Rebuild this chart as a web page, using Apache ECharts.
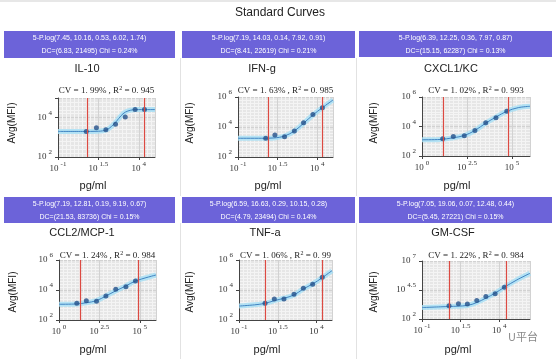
<!DOCTYPE html>
<html><head><meta charset="utf-8">
<script src="https://cdn.jsdelivr.net/npm/echarts@6/dist/echarts.min.js"></script>
<style>html,body{margin:0;padding:0;background:#fff}#c{width:556px;height:359px}</style>
</head><body><div id="c"></div>
<script>
// ---------------- DATA (log10 units unless stated) ----------------
const titles = ['IL-10', 'IFN-g', 'CXCL1/KC', 'CCL2/MCP-1', 'TNF-a', 'GM-CSF'];
const fitTexts = [
  '5-P.log(7.45, 10.16, 0.53, 6.02, 1.74)',
  '5-P.log(7.19, 14.03, 0.14, 7.92, 0.91)',
  '5-P.log(6.39, 12.25, 0.36, 7.97, 0.87)',
  '5-P.log(7.19, 12.81, 0.19, 9.19, 0.67)',
  '5-P.log(6.59, 16.63, 0.29, 10.15, 0.28)',
  '5-P.log(7.05, 19.06, 0.07, 12.48, 0.44)'
];
const dcTexts = [
  'DC=(6.83, 21495) Chi = 0.24%',
  'DC=(8.41, 22619) Chi = 0.21%',
  'DC=(15.15, 62287) Chi = 0.13%',
  'DC=(21.53, 83736) Chi = 0.15%',
  'DC=(4.79, 23494) Chi = 0.14%',
  'DC=(5.45, 27221) Chi = 0.15%'
];
const cvValues = ['1.99%', '1.63%', '1.02%', '1.24%', '1.06%', '1.22%'];
const r2Values = ['0.945', '0.985', '0.993', '0.984', '0.99', '0.984'];
// detection limits, pg/ml (raw values)
const dcLow = [6.83, 8.41, 15.15, 21.53, 4.79, 5.45];
const dcHigh = [21495, 22619, 62287, 83736, 23494, 27221];
// axis ranges (log10 exponents) and tick steps
const xMin = [-1, -1, 0, 0, -1, -1];
const xMax = [5, 5, 6, 6, 5, 6];
const xStep = [2.5, 2.5, 2.5, 2.5, 2.5, 2.5];
const yMin = [2, 2, 2, 2, 2, 2];
const yMax = [5, 6, 6, 6, 6, 7];
const yStep = [2, 2, 2, 2, 2, 2.5];

// standards: log10(pg/ml), log10(MFI)
const il10X = [0.75, 1.375, 1.96, 2.56, 3.16, 3.77, 4.35];
const il10Y = [3.30, 3.49, 3.38, 3.66, 4.03, 4.41, 4.41];
const ifngX = [0.75, 1.33, 1.94, 2.56, 3.14, 3.73, 4.33];
const ifngY = [3.25, 3.47, 3.35, 3.73, 4.29, 4.84, 5.29];
const cxcl1X = [1.15, 1.74, 2.35, 2.94, 3.54, 4.11, 4.71];
const cxcl1Y = [3.17, 3.33, 3.37, 3.73, 4.26, 4.60, 5.03];
const ccl2X = [1.10, 1.69, 2.32, 2.90, 3.51, 4.14, 4.73];
const ccl2Y = [3.11, 3.29, 3.25, 3.60, 4.05, 4.22, 4.60];
const tnfaX = [0.68, 1.28, 1.90, 2.55, 3.15, 3.75, 4.37];
const tnfaY = [3.11, 3.40, 3.40, 3.71, 4.11, 4.38, 4.85];
const gmcsfX = [0.75, 1.36, 1.94, 2.55, 3.14, 3.74, 4.34];
const gmcsfY = [3.14, 3.31, 3.29, 3.60, 3.94, 4.17, 4.74];

// fitted curves: log10(pg/ml), log10(MFI)
const il10FitX = [-1, 0.5, 1.5, 2.0, 2.3, 2.62, 2.9, 3.16, 3.5, 3.8, 5];
const il10FitY = [3.30, 3.30, 3.31, 3.38, 3.55, 3.82, 4.10, 4.28, 4.38, 4.41, 4.41];
const ifngFitX = [-1, 0.5, 1.27, 1.94, 2.56, 3.14, 3.73, 4.33, 5.0];
const ifngFitY = [3.25, 3.25, 3.27, 3.40, 3.73, 4.25, 4.80, 5.29, 5.80];
const cxcl1FitX = [0, 1.0, 1.74, 2.35, 2.94, 3.54, 4.11, 4.71, 5.35, 6];
const cxcl1FitY = [3.10, 3.12, 3.24, 3.39, 3.73, 4.23, 4.64, 5.03, 5.28, 5.37];
const ccl2FitX = [0, 1.10, 1.69, 2.32, 2.90, 3.52, 4.14, 4.73, 6.0];
const ccl2FitY = [3.05, 3.07, 3.15, 3.29, 3.60, 3.95, 4.27, 4.60, 5.0];
const tnfaFitX = [-1, 0.0, 0.68, 1.28, 1.90, 2.55, 3.15, 3.75, 4.37, 5.0];
const tnfaFitY = [2.93, 3.01, 3.11, 3.29, 3.45, 3.67, 4.07, 4.40, 4.82, 5.29];
const gmcsfFitX = [-1, 0.75, 1.94, 2.55, 3.14, 3.74, 4.34, 5.15, 6];
const gmcsfFitY = [2.99, 3.08, 3.17, 3.42, 3.80, 4.23, 4.74, 5.37, 5.94];

const ptsX = [il10X, ifngX, cxcl1X, ccl2X, tnfaX, gmcsfX];
const ptsY = [il10Y, ifngY, cxcl1Y, ccl2Y, tnfaY, gmcsfY];
const fitX = [il10FitX, ifngFitX, cxcl1FitX, ccl2FitX, tnfaFitX, gmcsfFitX];
const fitY = [il10FitY, ifngFitY, cxcl1FitY, ccl2FitY, tnfaFitY, gmcsfFitY];

// ---------------- LAYOUT ----------------
const plotBox = [
  {left: 58, top: 98, width: 97, height: 59},
  {left: 238, top: 97, width: 95, height: 60},
  {left: 422, top: 97, width: 108, height: 59},
  {left: 59, top: 260, width: 97, height: 60},
  {left: 239, top: 260, width: 93, height: 60},
  {left: 422, top: 261, width: 108, height: 58}
];
const headBox = [
  {x: 4, y: 31, w: 171, h: 27}, {x: 182, y: 31, w: 173, h: 27}, {x: 359, y: 31, w: 193, h: 26},
  {x: 4, y: 197, w: 171, h: 26}, {x: 182, y: 197, w: 173, h: 26}, {x: 359, y: 197, w: 193, h: 26}
];
const titleX = [87, 262, 451, 82, 265, 453];
const titleY = [69, 69, 69, 233, 233, 233];
const cvY = [91, 91, 91, 256, 256, 256];
const unitX = [93, 268, 457, 93, 267, 458];
const unitY = [186, 186, 186, 350, 350, 350];
const nameX = [12, 190, 374, 13, 190, 374];
const nameY = [123, 123, 123, 292, 292, 292];

const serif = '"Liberation Serif", "DejaVu Serif", serif';
const sans = '"Liberation Sans", Arial, sans-serif';

function isTick(v, min, step) {
  const k = (v - min) / step;
  return Math.abs(k - Math.round(k)) < 1e-6;
}
function expLabel(min, step) {
  return function (v) {
    if (!isTick(v, min, step)) return '';
    const e = Math.round(v * 10) / 10;
    return '{b|10}{s|' + e + '}';
  };
}
const richSup = {
  b: {fontSize: 9, fontFamily: serif, color: '#333'},
  s: {fontSize: 7, fontFamily: serif, color: '#333', padding: [0, 0, 9, 2]}
};

const grids = [], xAxes = [], yAxes = [], series = [], graphics = [];
for (let i = 0; i < 6; i++) {
  grids.push(Object.assign({show: true, backgroundColor: '#e6e6e6', borderWidth: 0}, plotBox[i]));
  xAxes.push({
    type: 'value', gridIndex: i, min: xMin[i], max: xMax[i], interval: xStep[i],
    axisLine: {show: true, onZero: false, lineStyle: {color: '#444', width: 1}},
    axisTick: {show: true, length: 3, lineStyle: {color: '#444'}},
    axisLabel: {formatter: expLabel(xMin[i], xStep[i]), rich: richSup, margin: 4, showMaxLabel: false},
    splitLine: {show: true, lineStyle: {color: '#d2d2d2', width: 1}},
    minorTick: {show: false, splitNumber: 10},
    minorSplitLine: {show: true, lineStyle: {color: '#f4f4f4', width: 1}}
  });
  yAxes.push({
    type: 'value', gridIndex: i, min: yMin[i], max: yMax[i], interval: yStep[i],
    axisLine: {show: true, onZero: false, lineStyle: {color: '#444', width: 1}},
    axisTick: {show: true, length: 3, lineStyle: {color: '#444'}},
    axisLabel: {formatter: expLabel(yMin[i], yStep[i]), rich: richSup, margin: 6},
    splitLine: {show: true, lineStyle: {color: '#d2d2d2', width: 1}},
    minorTick: {show: false, splitNumber: 10},
    minorSplitLine: {show: true, lineStyle: {color: '#f4f4f4', width: 1}}
  });
  const curve = fitX[i].map((x, k) => [x, fitY[i][k]]);
  series.push({
    type: 'line', xAxisIndex: i, yAxisIndex: i, data: curve, smooth: 0.35, symbol: 'none',
    silent: true, lineStyle: {color: 'rgba(165,222,245,0.8)', width: 5}, z: 2
  });
  series.push({
    type: 'line', xAxisIndex: i, yAxisIndex: i, data: curve, smooth: 0.35, symbol: 'none',
    lineStyle: {color: '#4084c2', width: 1}, z: 3
  });
  series.push({
    type: 'scatter', xAxisIndex: i, yAxisIndex: i, symbolSize: 5,
    data: ptsX[i].map((x, k) => [x, ptsY[i][k]]),
    itemStyle: {color: '#24508a'}, z: 4,
    markLine: {
      silent: true, symbol: ['none', 'none'], label: {show: false},
      lineStyle: {color: '#dc4a42', width: 1.2, type: 'solid', opacity: 1},
      emphasis: {disabled: true},
      data: [
        {xAxis: Math.log10(dcLow[i])},
        {xAxis: Math.log10(dcHigh[i])}
      ]
    }
  });
  const hb = headBox[i];
  graphics.push({type: 'rect', shape: {x: hb.x, y: hb.y, width: hb.w, height: hb.h}, style: {fill: '#6c63d9'}, silent: true});
  graphics.push({type: 'text', x: hb.x + hb.w / 2, y: hb.y + 7, style: {text: fitTexts[i], fill: '#fff', font: '7px ' + sans, textAlign: 'center', textVerticalAlign: 'middle'}});
  graphics.push({type: 'text', x: hb.x + hb.w / 2, y: hb.y + 20, style: {text: dcTexts[i], fill: '#fff', font: '7px ' + sans, textAlign: 'center', textVerticalAlign: 'middle'}});
  graphics.push({type: 'text', x: titleX[i], y: titleY[i], style: {text: titles[i], fill: '#222', font: '11px ' + sans, textAlign: 'center', textVerticalAlign: 'middle'}});
  const pb = plotBox[i];
  graphics.push({type: 'text', x: pb.left + pb.width / 2, y: cvY[i], style: {
    rich: {t: {font: '9px ' + serif, fill: '#222'}, s: {font: '6px ' + serif, fill: '#222', padding: [0, 0, 6, 0]}},
    text: '{t|CV = ' + cvValues[i].replace('.', '. ') + ' , R}{s|2}{t| = ' + r2Values[i].replace('.', '. ') + '}',
    textAlign: 'center', textVerticalAlign: 'middle'}});
  graphics.push({type: 'text', x: unitX[i], y: unitY[i], style: {text: 'pg/ml', fill: '#222', font: '11px ' + sans, textAlign: 'center', textVerticalAlign: 'middle'}});
  graphics.push({type: 'text', x: nameX[i], y: nameY[i], rotation: Math.PI / 2, style: {text: 'Avg(MFI)', fill: '#222', font: '10px ' + sans, textAlign: 'center', textVerticalAlign: 'middle'}});
}
// frame / separators
graphics.push({type: 'line', shape: {x1: 0, y1: 1, x2: 556, y2: 1}, style: {stroke: '#cfcfcf', lineWidth: 1}});
graphics.push({type: 'line', shape: {x1: 180.5, y1: 58, x2: 180.5, y2: 196}, style: {stroke: '#e2e2e2', lineWidth: 1}});
graphics.push({type: 'line', shape: {x1: 356.5, y1: 58, x2: 356.5, y2: 196}, style: {stroke: '#e2e2e2', lineWidth: 1}});
graphics.push({type: 'line', shape: {x1: 180.5, y1: 223, x2: 180.5, y2: 359}, style: {stroke: '#e2e2e2', lineWidth: 1}});
graphics.push({type: 'line', shape: {x1: 356.5, y1: 223, x2: 356.5, y2: 359}, style: {stroke: '#e2e2e2', lineWidth: 1}});
graphics.push({type: 'text', x: 280, y: 13, style: {text: 'Standard Curves', fill: '#222', font: '12px ' + sans, textAlign: 'center', textVerticalAlign: 'middle'}});
graphics.push({type: 'text', x: 523, y: 337, style: {text: 'U平台', fill: '#888', font: '11px "Noto Sans CJK SC", sans-serif', textAlign: 'center', textVerticalAlign: 'middle'}});

const chart = echarts.init(document.getElementById('c'), null, {renderer: 'canvas', width: 556, height: 359});
chart.setOption({
  animation: false,
  backgroundColor: '#ffffff',
  grid: grids, xAxis: xAxes, yAxis: yAxes, series: series,
  graphic: graphics
});
</script></body></html>
